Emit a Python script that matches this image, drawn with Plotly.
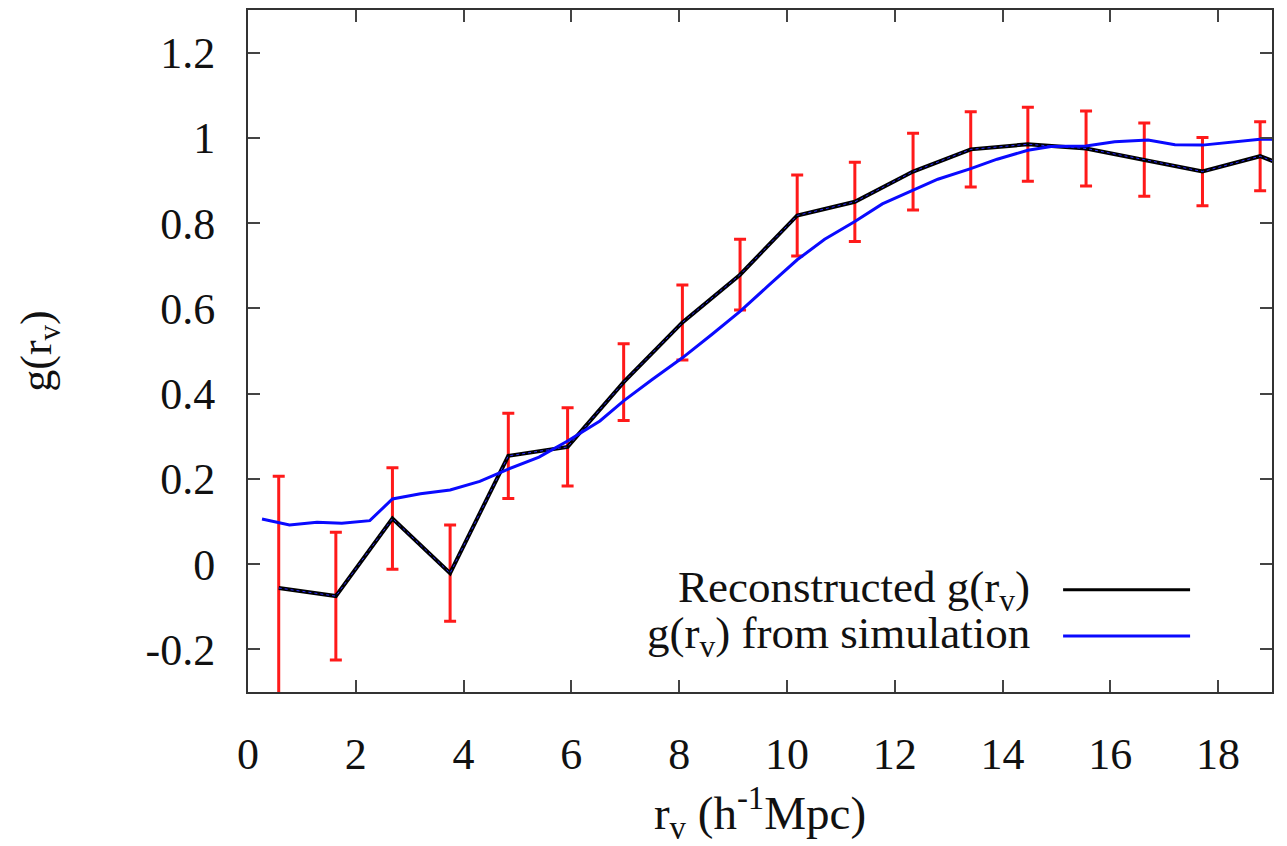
import plotly.graph_objects as go

# Reconstructed void profile with 1-sigma errors
r_rec = [0.57, 1.63, 2.68, 3.75, 4.83, 5.93, 6.97, 8.06, 9.13, 10.19, 11.26,
         12.34, 13.41, 14.47, 15.55, 16.63, 17.71, 18.78, 19.85]
g_rec = [-0.056, -0.075, 0.107, -0.021, 0.254, 0.275, 0.427, 0.567, 0.679, 0.818,
         0.850, 0.921, 0.973, 0.985, 0.975, 0.949, 0.921, 0.957, 0.905]
g_err = [0.262, 0.150, 0.119, 0.113, 0.100, 0.092, 0.090, 0.088, 0.083, 0.095,
         0.093, 0.090, 0.088, 0.087, 0.088, 0.086, 0.080, 0.081, 0.080]

# Profile measured directly in the simulation
r_sim = [0.26, 0.77, 1.28, 1.74, 2.26, 2.68, 3.2, 3.75, 4.3, 4.83, 5.4, 5.93,
         6.53, 6.97, 7.5, 8.06, 8.6, 9.13, 9.67, 10.19, 10.7, 11.26, 11.77,
         12.3, 12.8, 13.41, 13.9, 14.47, 14.9, 15.55, 16.08, 16.7, 17.2,
         17.71, 18.3, 18.78, 19.0]
g_sim = [0.106, 0.092, 0.098, 0.096, 0.102, 0.153, 0.165, 0.174, 0.194, 0.223,
         0.251, 0.289, 0.336, 0.383, 0.433, 0.484, 0.538, 0.593, 0.655, 0.714,
         0.762, 0.804, 0.845, 0.875, 0.903, 0.928, 0.950, 0.971, 0.980, 0.981,
         0.991, 0.995, 0.984, 0.983, 0.990, 0.997, 0.997]

x_ticks = [0, 2, 4, 6, 8, 10, 12, 14, 16, 18]
y_ticks = [-0.2, 0, 0.2, 0.4, 0.6, 0.8, 1, 1.2]
y_tick_text = ["-0.2", "0", "0.2", "0.4", "0.6", "0.8", "1", "1.2"]

FONT = "Liberation Serif"
INK = "#111111"
fig = go.Figure()

fig.add_trace(go.Scatter(
    x=r_rec, y=g_rec, mode="lines",
    line=dict(color="#000000", width=4),
    error_y=dict(type="data", array=g_err, color="#ff1a1a", thickness=3, width=6),
    showlegend=False,
))
# thin dotted core along the reconstructed curve
fig.add_trace(go.Scatter(
    x=r_rec, y=g_rec, mode="lines",
    line=dict(color="#2a2aff", width=1, dash="dot"),
    showlegend=False,
))
fig.add_trace(go.Scatter(
    x=r_sim, y=g_sim, mode="lines",
    line=dict(color="#0a0aff", width=3),
    showlegend=False,
))

axis_common = dict(
    showgrid=False, zeroline=False, showline=True, mirror="ticks",
    linecolor="#333333", linewidth=2, ticks="inside", ticklen=12,
    tickwidth=2, tickcolor="#444444",
    tickfont=dict(family=FONT, size=44, color=INK),
    ticklabelstandoff=22, automargin=False,
)
fig.update_xaxes(range=[0, 19], tickvals=x_ticks,
                 title=dict(text="r<sub>v</sub> (h<sup>-1</sup>Mpc)",
                            font=dict(family=FONT, size=47, color=INK),
                            standoff=34),
                 **axis_common)
fig.update_yaxes(range=[-0.3, 1.3], tickvals=y_ticks, ticktext=y_tick_text,
                 title=dict(text="g(r<sub>v</sub>)",
                            font=dict(family=FONT, size=44, color=INK),
                            standoff=80),
                 **axis_common)

# key: label on the left, line sample on the right
legend_rows = [("Reconstructed g(r<sub>v</sub>)", "#000000", 0.150),
               ("g(r<sub>v</sub>) from simulation", "#0a0aff", 0.082)]
for label, color, yp in legend_rows:
    fig.add_annotation(x=0.766, y=yp, xref="paper", yref="paper",
                       text=label, showarrow=False, xanchor="right", yanchor="middle",
                       font=dict(family=FONT, size=45, color=INK))
    fig.add_shape(type="line", xref="paper", yref="paper",
                  x0=0.796, x1=0.92, y0=yp, y1=yp,
                  line=dict(color=color, width=3))

fig.update_layout(
    width=1287, height=846,
    margin=dict(l=248, r=15, t=10, b=154),
    paper_bgcolor="white", plot_bgcolor="white",
)

fig.write_html("out.html")
